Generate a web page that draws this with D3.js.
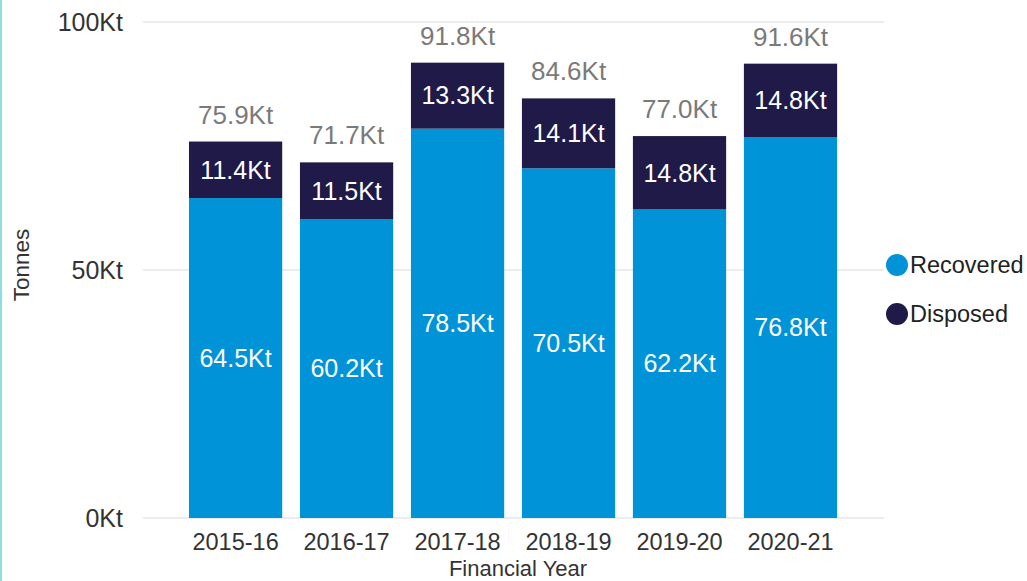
<!DOCTYPE html>
<html>
<head>
<meta charset="utf-8">
<script src="https://cdn.jsdelivr.net/npm/d3@7"></script>
<style>
  html, body { margin: 0; padding: 0; background: #fff; }
  body { width: 1027px; height: 581px; overflow: hidden; position: relative; }
  #edge { position: absolute; left: 0; top: 0; width: 2px; height: 581px; background: #8fdde3; }
  text { font-family: "Liberation Sans", Arial, sans-serif; }
</style>
</head>
<body>
<div id="edge"></div>
<div class="chart"></div>
<script>
// data (Kt)
const years = ["2015-16", "2016-17", "2017-18", "2018-19", "2019-20", "2020-21"];
const recovered = [64.5, 60.2, 78.5, 70.5, 62.2, 76.8];
const disposed = [11.4, 11.5, 13.3, 14.1, 14.8, 14.8];
const totals = [75.9, 71.7, 91.8, 84.6, 77.0, 91.6];
const yTicks = [0, 50, 100];
const seriesNames = ["Recovered", "Disposed"];
const seriesColors = ["#0093d8", "#201a48"];

const rows = years.map((y, i) => ({ year: y, Recovered: recovered[i], Disposed: disposed[i], total: totals[i] }));

const svg = d3.select(".chart").append("svg")
  .attr("width", 1027)
  .attr("height", 581)
  .style("position", "absolute")
  .style("left", 0).style("top", 0);

const x = d3.scaleBand()
  .domain(years)
  .range([180.1, 846])
  .paddingInner(0.16)
  .paddingOuter(0.08);

const y = d3.scaleLinear()
  .domain([0, 100])
  .range([518, 22]);

// gridlines
svg.append("g").selectAll("line")
  .data(yTicks)
  .join("line")
  .attr("x1", 143).attr("x2", 884)
  .attr("y1", d => y(d)).attr("y2", d => y(d))
  .attr("stroke", "#e6e6e6")
  .attr("stroke-width", 1.5);

// y tick labels
svg.append("g").selectAll("text")
  .data(yTicks)
  .join("text")
  .attr("x", 123)
  .attr("y", d => y(d))
  .attr("dy", "0.35em")
  .attr("text-anchor", "end")
  .attr("fill", "#333")
  .style("font-size", "25px")
  .text(d => d + "Kt");

const stack = d3.stack().keys(seriesNames)(rows);

const layers = svg.append("g").selectAll("g")
  .data(stack)
  .join("g")
  .attr("fill", (d, i) => seriesColors[i]);

layers.selectAll("rect")
  .data(d => d)
  .join("rect")
  .attr("x", d => x(d.data.year))
  .attr("width", x.bandwidth())
  .attr("y", d => y(d[1]))
  .attr("height", d => y(d[0]) - y(d[1]));

// labels inside segments
layers.selectAll("text")
  .data(d => d.map(v => ({ v: v, key: d.key })))
  .join("text")
  .attr("x", d => x(d.v.data.year) + x.bandwidth() / 2)
  .attr("y", d => (y(d.v[0]) + y(d.v[1])) / 2)
  .attr("dy", "0.35em")
  .attr("text-anchor", "middle")
  .attr("fill", "#fff")
  .style("font-size", "25px")
  .text(d => d.v.data[d.key].toFixed(1) + "Kt");

// total labels
svg.append("g").selectAll("text")
  .data(rows)
  .join("text")
  .attr("x", d => x(d.year) + x.bandwidth() / 2)
  .attr("y", d => y(d.total) - 18)
  .attr("text-anchor", "middle")
  .attr("fill", "#7a7a7a")
  .style("font-size", "26px")
  .text(d => d.total.toFixed(1) + "Kt");

// x axis labels
svg.append("g").selectAll("text")
  .data(years)
  .join("text")
  .attr("x", d => x(d) + x.bandwidth() / 2)
  .attr("y", 542)
  .attr("dy", "0.35em")
  .attr("text-anchor", "middle")
  .attr("fill", "#333")
  .style("font-size", "23.5px")
  .text(d => d);

// axis titles
svg.append("text")
  .attr("x", 518).attr("y", 568)
  .attr("dy", "0.35em")
  .attr("text-anchor", "middle")
  .attr("fill", "#333")
  .style("font-size", "22px")
  .text("Financial Year");

svg.append("text")
  .attr("transform", "translate(21,265) rotate(-90)")
  .attr("dy", "0.35em")
  .attr("text-anchor", "middle")
  .attr("fill", "#333")
  .style("font-size", "22.5px")
  .text("Tonnes");

// legend
const legend = svg.append("g").selectAll("g")
  .data(seriesNames)
  .join("g")
  .attr("transform", (d, i) => "translate(897," + (265 + i * 49) + ")");

legend.append("circle")
  .attr("r", 11)
  .attr("fill", (d, i) => seriesColors[i]);

legend.append("text")
  .attr("x", 13)
  .attr("dy", "0.35em")
  .attr("fill", "#222")
  .style("font-size", "23.5px")
  .text(d => d);
</script>
</body>
</html>
